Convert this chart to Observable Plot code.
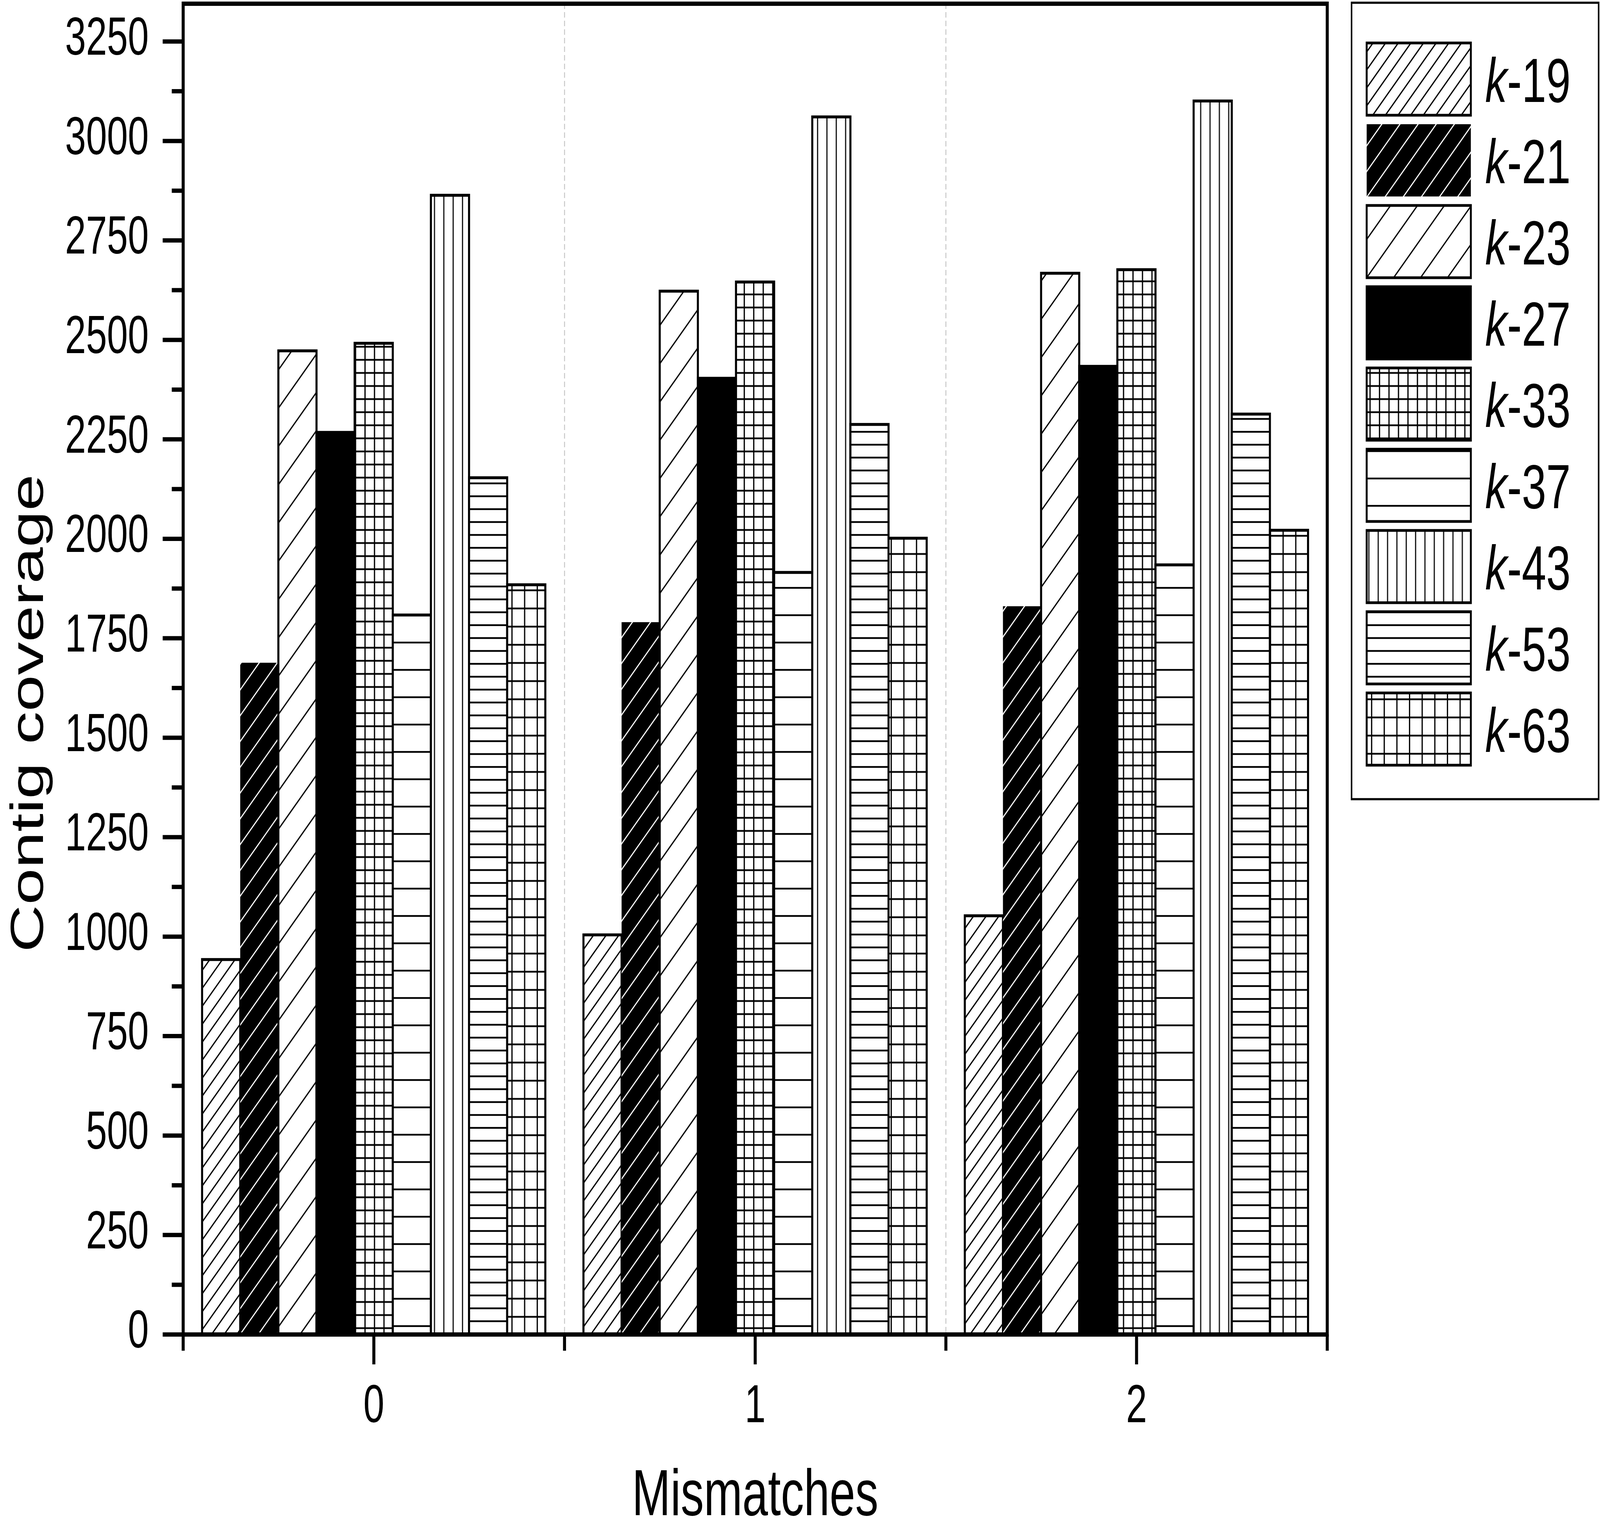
<!DOCTYPE html>
<html><head><meta charset="utf-8">
<script src="https://cdn.jsdelivr.net/npm/d3@7"></script>
<script src="https://cdn.jsdelivr.net/npm/@observablehq/plot@0.6"></script>
<style>
html,body{margin:0;padding:0;background:#fff;overflow:hidden;width:100%;height:100%}
#chart{width:100vw;height:100vh;overflow:hidden;position:relative}
#chart svg{display:block;width:100vw;height:100vh;max-width:none}
</style>
</head><body><div id="chart"></div>
<script>
// ---- data ----
const mismatches = [0, 1, 2];
const series = ["k-19", "k-21", "k-23", "k-27", "k-33", "k-37", "k-43", "k-53", "k-63"];
const coverageM0 = [942, 1688, 2472, 2267, 2491, 1808, 2863, 2153, 1884];
const coverageM1 = [1004, 1790, 2622, 2403, 2645, 1915, 3060, 2287, 2001];
const coverageM2 = [1052, 1830, 2667, 2433, 2676, 1934, 3100, 2313, 2021];
const yMajorTicks = [0, 250, 500, 750, 1000, 1250, 1500, 1750, 2000, 2250, 2500, 2750, 3000, 3250];
const yMinorTicks = [125, 375, 625, 875, 1125, 1375, 1625, 1875, 2125, 2375, 2625, 2875, 3125];
const xMajorTicks = [0, 1, 2];
const xMinorTicks = [-0.5, 0.5, 1.5, 2.5];
const xLabel = "Mismatches";
const yLabel = "Contig coverage";

const coverage = [coverageM0, coverageM1, coverageM2];
const rows = mismatches.flatMap((m, g) => series.map((k, i) => ({m, i, k, value: coverage[g][i]})));

const FONT = "'Liberation Sans', Arial, Helvetica, sans-serif";
const fills = ["url(#p19)", "url(#p21)", "url(#p23)", "black", "url(#p33)", "url(#p37)", "url(#p43)", "url(#p53)", "url(#p63)"];
const slot = 0.1; // 9 bars + one gap per category

const W = 5822, H = 3917;
const svg = Plot.plot({
  width: W,
  height: H,
  marginLeft: 666,
  marginRight: 993,
  marginTop: 9,
  marginBottom: 501,
  style: {fontFamily: FONT, background: "white", color: "black", overflow: "hidden"},
  x: {type: "linear", domain: [-0.5, 2.5]},
  y: {domain: [0, 3345]},
  color: {type: "ordinal", domain: series, range: fills},
  marks: [
    Plot.ruleX([0.5, 1.5], {stroke: "#c8c8c8", strokeWidth: 3.5, strokeDasharray: "14,8"}),
    Plot.rectY(rows, {
      x1: d => d.m - 0.45 + d.i * slot,
      x2: d => d.m - 0.45 + (d.i + 1) * slot,
      y: "value",
      fill: "k",
      stroke: d => d.k === "k-21" ? "none" : "black",
      strokeWidth: 7.5
    }),
    Plot.frame({stroke: "black", strokeWidth: 11}),
    Plot.axisY({ticks: yMajorTicks, tickSize: 74, tickFormat: () => "", strokeWidth: 11, label: null}),
    Plot.axisY({ticks: yMinorTicks, tickSize: 41, tickFormat: () => "", strokeWidth: 11, label: null}),
    Plot.axisY({ticks: yMajorTicks, tickSize: 0, tickPadding: 125, dy: -10, fontSize: 137, tickFormat: d => String(d), label: null}),
    Plot.axisX({ticks: xMajorTicks, tickSize: 77, tickPadding: 50, fontSize: 137, strokeWidth: 11, tickFormat: d => String(d), label: null}),
    Plot.axisX({ticks: xMinorTicks, tickSize: 42, tickFormat: () => "", strokeWidth: 11, label: null}),
    Plot.text([yLabel], {text: d => d, frameAnchor: "left", rotate: -90, lineAnchor: "bottom", textAnchor: "middle", dx: -510, dy: 113, fontSize: 168, fill: "black"}),
    Plot.text([xLabel], {text: d => d, frameAnchor: "bottom", lineAnchor: "bottom", textAnchor: "middle", dy: 462, fontSize: 168, fill: "black"})
  ]
});
// the browser viewport may be narrower than the reference canvas: fill it with the full drawing
svg.setAttribute("viewBox", `0 0 ${W} ${H}`);
svg.setAttribute("preserveAspectRatio", "none");

// ---- hatch patterns ----
const defs = d3.select(svg).insert("defs", ":first-child");
function diag(id, s, bg, fg, w) {
  const p = defs.append("pattern").attr("id", id).attr("patternUnits", "userSpaceOnUse").attr("width", s).attr("height", s);
  p.append("rect").attr("width", s).attr("height", s).attr("fill", bg);
  p.append("path")
    .attr("d", `M0,${s}L${s},0M${-s/4},${s/4}L${s/4},${-s/4}M${3*s/4},${5*s/4}L${5*s/4},${3*s/4}`)
    .attr("stroke", fg).attr("stroke-width", w).attr("fill", "none");
}
function lines(id, sx, sy, w) {
  const PW = sx || 10, PH = sy || 10;
  const p = defs.append("pattern").attr("id", id).attr("patternUnits", "userSpaceOnUse").attr("width", PW).attr("height", PH);
  p.append("rect").attr("width", PW).attr("height", PH).attr("fill", "white");
  let d = "";
  if (sx) d += `M${PW/2},0V${PH}`;
  if (sy) d += `M0,${PH/2}H${PW}`;
  p.append("path").attr("d", d).attr("stroke", "black").attr("stroke-width", w).attr("fill", "none");
}
diag("p19", 46, "white", "black", 4);
diag("p21", 66, "black", "white", 3.5);
diag("p23", 98, "white", "black", 4);
lines("p33", 34.5, 33.5, 4.5);
lines("p37", 0, 70, 4.5);
lines("p43", 34, 0, 4);
lines("p53", 0, 33, 4.5);
lines("p63", 46, 46.5, 4.5);

// ---- legend ----
const lg = d3.select(svg).append("g").attr("font-family", FONT).attr("fill", "black").attr("text-anchor", "start");
lg.append("rect").attr("x", 4918).attr("y", 7).attr("width", 899).attr("height", 2039)
  .attr("fill", "white").attr("stroke", "black").attr("stroke-width", 5.5);
series.forEach((k, i) => {
  const y0 = 110 + 208 * i;
  lg.append("rect").attr("x", 4973).attr("y", y0).attr("width", 379).attr("height", 185)
    .attr("fill", fills[i]).attr("stroke", k === "k-21" ? "none" : "black").attr("stroke-width", 7);
  const t = lg.append("text").attr("x", 5404).attr("y", y0 + 151).attr("font-size", 160).attr("text-anchor", "start");
  const parts = k.split("-");
  t.append("tspan").attr("font-style", "italic").text(parts[0]);
  t.append("tspan").text("-" + parts[1]);
});

document.getElementById("chart").appendChild(svg);
</script>
</body></html>
